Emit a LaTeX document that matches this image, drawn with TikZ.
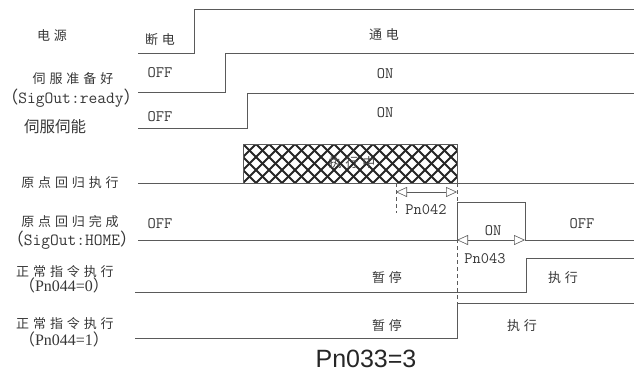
\documentclass[tikz,border=0pt]{standalone}
\usepackage{fontspec}
\setmainfont{Liberation Serif}
\setsansfont{Liberation Sans}
\newfontfamily\cjk[LetterSpace=30]{Noto Sans CJK SC}
\newfontfamily\cjkp{Noto Sans CJK SC}
\usetikzlibrary{arrows.meta}
\definecolor{wavegray}{RGB}{90,90,90}
\definecolor{txtgray}{RGB}{55,55,55}

\begin{document}
\begin{tikzpicture}[x=1pt, y=-1pt,
  wave/.style={draw=wavegray, line width=0.9pt},
  hatch/.style={draw=black!85, line width=2pt},
  lbl/.style={text=txtgray, inner sep=0pt, font=\cjk\fontsize{13}{13}\selectfont},
  sig/.style={text=txtgray, inner sep=0pt, font=\ttfamily\fontsize{16}{16}\selectfont},
  par/.style={text=txtgray, inner sep=0pt, font=\rmfamily\fontsize{16}{16}\selectfont},
  dim/.style={wavegray, line width=0.6pt, {Triangle[open,length=11pt,width=10pt]}-{Triangle[open,length=11pt,width=10pt]}},
  guide/.style={wavegray, line width=0.6pt, dash pattern=on 4pt off 3pt}
]
  \useasboundingbox (0,0) rectangle (634,383);

  % left labels
  \node[lbl] (power) at (52,36) {电源};
  \node[lbl] (ready) at (73,79) {伺服准备好};
  \node[sig, font=\ttfamily\fontsize{17}{17}\selectfont] (readysig) at (71,98) {{\cjkp （}SigOut:ready{\cjkp ）}};
  \node[lbl, font=\cjkp\fontsize{15.5}{16}\selectfont] (enable) at (55,127) {伺服伺能};
  \node[lbl] (homerun) at (70,183) {原点回归执行};
  \node[lbl] (homedone) at (70,222) {原点回归完成};
  \node[sig, font=\ttfamily\fontsize{17}{17}\selectfont] (homesig) at (72,240) {{\cjkp （}SigOut:HOME{\cjkp ）}};
  \node[lbl] (cmdzero) at (65,272) {正常指令执行};
  \node[par] (cmdzerop) at (64,285) {{\cjkp （}Pn044=0{\cjkp ）}};
  \node[lbl] (cmdone) at (65,324) {正常指令执行};
  \node[par] (cmdonep) at (64,339) {{\cjkp （}Pn044=1{\cjkp ）}};

  % waveforms
  \draw[wave] (138,53) -- (194,53) -- (194,9) -- (634,9);
  \draw[wave] (138,92) -- (225,92) -- (225,53) -- (634,53);
  \draw[wave] (138,128) -- (247,128) -- (247,93) -- (634,93);
  \draw[wave] (138,183) -- (243,183);
  \draw[wave] (457,183) -- (634,183);
  \draw[wave] (138,240) -- (457,240) -- (457,202) -- (525,202) -- (525,240) -- (634,240);
  \draw[wave] (135,292) -- (526,292) -- (526,258) -- (634,258);
  \draw[wave] (135,338) -- (457,338) -- (457,303) -- (634,303);

  % homing busy block
  \begin{scope}
    \clip (243,144) rectangle (457,183);
    \foreach \x in {204,217,...,470} {
      \draw[hatch] (\x,183) -- ++(39,-39);
      \draw[hatch] (\x,144) -- ++(39,39);
    }
  \end{scope}
  \draw[wave] (243,144) rectangle (457,183);
  \node[lbl, text=black!70] (busy) at (352,163) {执行中};

  % timing marks
  \draw[guide] (457,183) -- (457,303);
  \draw[guide] (396,183) -- (396,213);
  \coordinate (pa) at (396,192);
  \coordinate (pb) at (457,192);
  \coordinate (pc) at (457,240);
  \coordinate (pd) at (525,240);
  \draw[dim] (pa) -- (pb);
  \draw[dim] (pc) -- (pd);

  % state texts
  \node[lbl] (off1) at (160,40) {断电};
  \node[lbl] (on1) at (384,35) {通电};
  \node[sig] (off2) at (160,73) {OFF};
  \node[sig] (on2) at (385,74) {ON};
  \node[sig] (off3) at (160,117) {OFF};
  \node[sig] (on3) at (385,113) {ON};
  \node[sig] (off4) at (160,224) {OFF};
  \node[sig] (on4) at (493,231) {ON};
  \node[sig] (off5) at (582,224) {OFF};
  \node[sig] (pn42) at (426,210) {Pn042};
  \node[sig] (pn43) at (485,259) {Pn043};
  \node[lbl] (hold1) at (387,278) {暂停};
  \node[lbl] (run1) at (563,278) {执行};
  \node[lbl] (hold2) at (387,326) {暂停};
  \node[lbl] (run2) at (522,326) {执行};

  \node[text=black!85, inner sep=0pt, font=\sffamily\fontsize{25}{25}\selectfont] (mode) at (366,359) {Pn033=3};
\end{tikzpicture}
\end{document}
